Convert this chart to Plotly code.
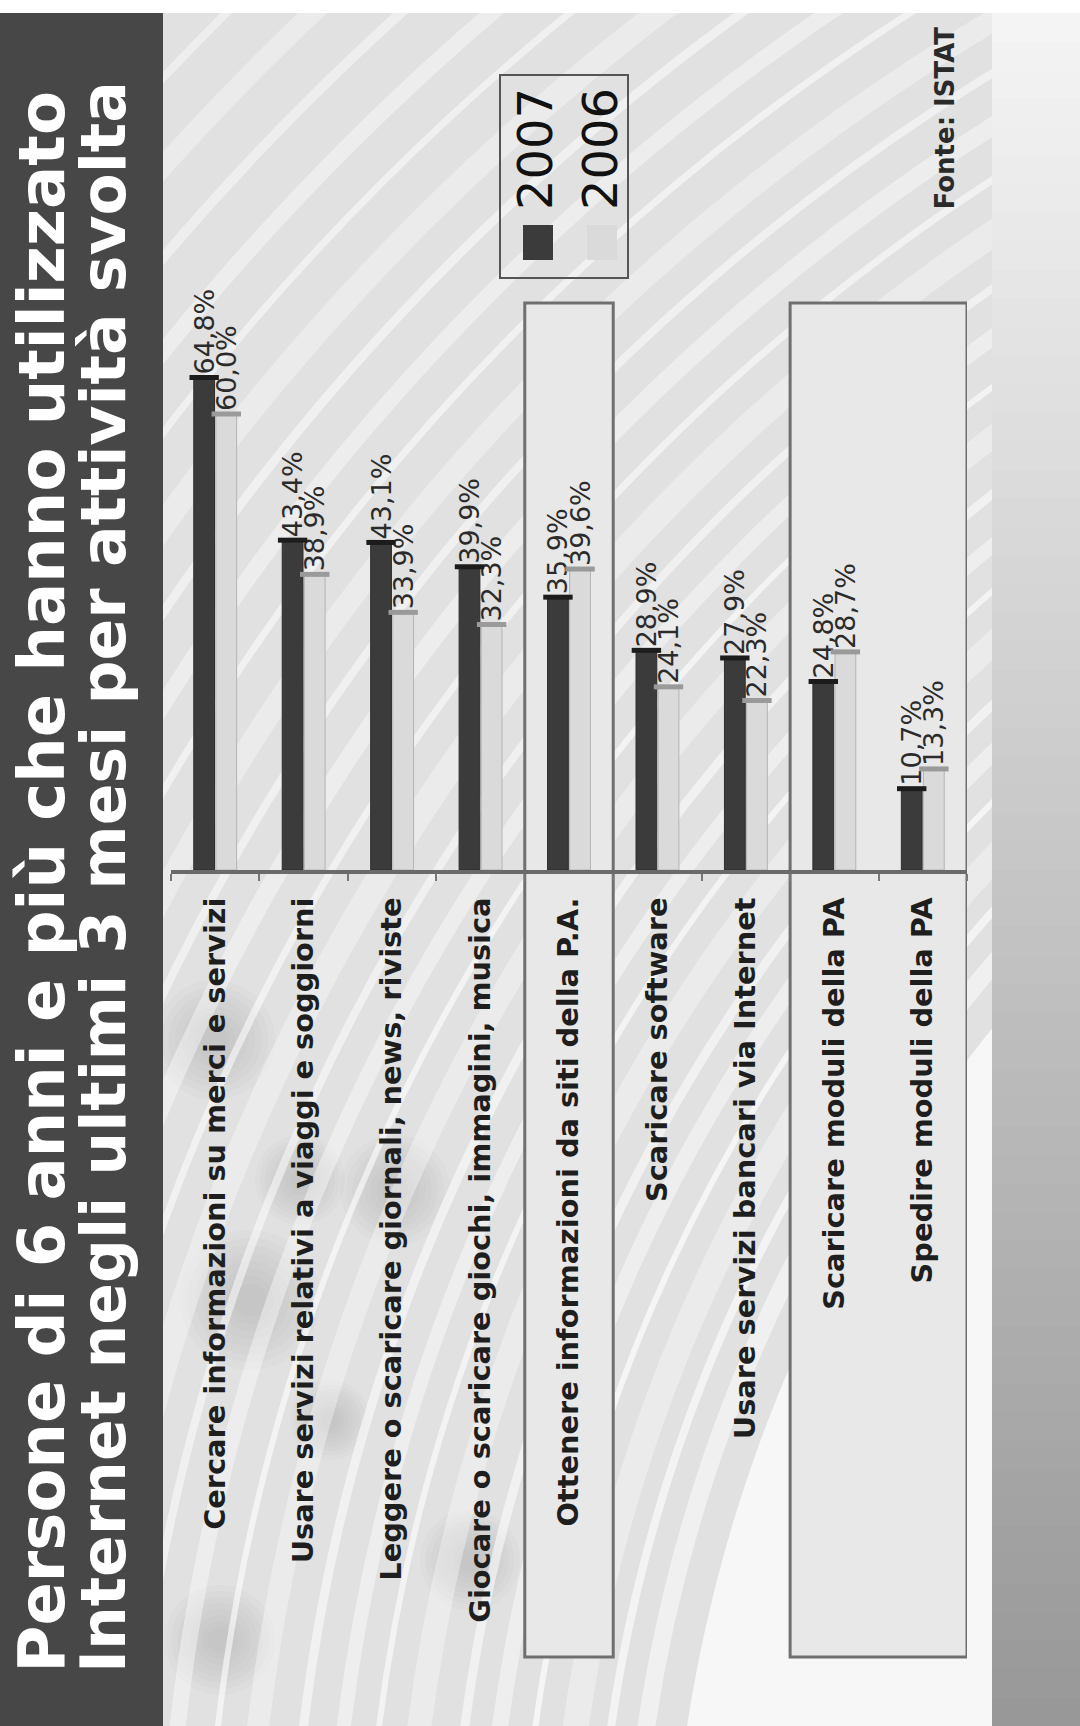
import plotly.graph_objects as go

# ---------------- data ----------------
categorie = [
    "Cercare informazioni su merci e servizi",
    "Usare servizi relativi a viaggi e soggiorni",
    "Leggere o scaricare giornali, news, riviste",
    "Giocare o scaricare giochi, immagini, musica",
    "Ottenere informazioni da siti della P.A.",
    "Scaricare software",
    "Usare servizi bancari via Internet",
    "Scaricare moduli della PA",
    "Spedire moduli della PA",
]
valori_2007 = [64.8, 43.4, 43.1, 39.9, 35.9, 28.9, 27.9, 24.8, 10.7]
valori_2006 = [60.0, 38.9, 33.9, 32.3, 39.6, 24.1, 22.3, 28.7, 13.3]
anni = ["2007", "2006"]
# groups of categories framed by a highlight box (first, last index)
riquadri = [(4, 4), (7, 8)]

titolo_1 = "Persone di 6 anni e più che hanno utilizzato"
titolo_2 = "Internet negli ultimi 3 mesi per attività svolta"
fonte = "Fonte: ISTAT"

# ---------------- style ----------------
FONT = "DejaVu Sans"
colori = ["#3b3b3b", "#dadada"]
bordi = ["#2e2e2e", "#b4b4b4"]
colori_cap = ["#1c1c1c", "#9a9a9a"]

W, H = 1080, 1726
ML, MR, MT, MB = 171, 113, 303, 856
PW = W - ML - MR
PH = H - MT - MB
PX_PER_UNIT = 7.6          # vertical pixels per percentage point


def fx(px):
    return (px - ML) / PW


def fy(py):
    return (H - MB - py) / PH


def fmt(v):
    return f"{v:.1f}".replace(".", ",") + "%"


fig = go.Figure()

serie = [valori_2007, valori_2006]
for nome, vals, col, bor in zip(anni, serie, colori, bordi):
    fig.add_bar(
        x=categorie, y=vals, name=nome, offsetgroup=nome,
        marker=dict(color=col, line=dict(width=1, color=bor)),
        text=[fmt(v) for v in vals], textposition="outside", textangle=-90,
        textfont=dict(family=FONT, size=27, color="#2b2b2b"),
        constraintext="none", cliponaxis=False, showlegend=False,
    )

# elliptic-looking caps on top of the cylinders
for nome, vals, capcol in zip(anni, serie, colori_cap):
    fig.add_scatter(
        x=categorie, y=vals, mode="markers", offsetgroup=nome,
        marker=dict(symbol="line-ew", size=21, line=dict(width=5, color=capcol)),
        showlegend=False, hoverinfo="skip", cliponaxis=False,
    )

shapes = []

# main background
shapes.append(dict(type="rect", xref="paper", yref="paper", layer="below",
                   x0=fx(160), x1=fx(992), y0=fy(H), y1=fy(13),
                   fillcolor="#e1e1e1", line=dict(width=0)))


def cerchio(cx, cy, r, fill="rgba(0,0,0,0)", w=0, lc="rgba(0,0,0,0)"):
    return dict(type="circle", xref="paper", yref="paper", layer="below",
                x0=fx(cx - r), x1=fx(cx + r), y0=fy(cy + r), y1=fy(cy - r),
                fillcolor=fill, line=dict(width=w, color=lc))


# soft grey smudges in the lower left
for cx, cy, r in [(215, 1040, 60), (250, 1300, 70), (395, 1190, 55),
                  (300, 1180, 45), (220, 1640, 55), (470, 1560, 50), (330, 1420, 40)]:
    for k in range(8):
        shapes.append(cerchio(cx, cy, r * (1 - 0.11 * k), fill="rgba(80,80,80,0.022)"))

# light sweep and streaks, concentric around a far point at the lower right
CX, CY = 2150, 1950
shapes.append(cerchio(CX, CY, 1480, fill="rgba(255,255,255,0.72)"))
for r, w, a in [(1520, 18, 0.5), (1555, 8, 0.6), (1590, 26, 0.35), (1630, 6, 0.65),
                (1665, 16, 0.45), (1700, 9, 0.55), (1745, 24, 0.35), (1785, 6, 0.6),
                (1820, 14, 0.45), (1860, 9, 0.55), (1905, 22, 0.35), (1945, 6, 0.6),
                (1985, 16, 0.4), (2025, 8, 0.5), (2070, 26, 0.35), (2115, 7, 0.55),
                (2160, 18, 0.4), (2205, 8, 0.5), (2250, 22, 0.35), (2300, 7, 0.55),
                (2345, 16, 0.4), (2395, 9, 0.5), (2445, 24, 0.35), (2500, 7, 0.5),
                (2550, 16, 0.4), (2610, 10, 0.45), (2670, 20, 0.35), (2730, 8, 0.45)]:
    shapes.append(cerchio(CX, CY, r, w=w, lc=f"rgba(255,255,255,{a})"))

# right-hand strip with a vertical grey gradient
N = 60
y_top, y_bot = 13, H
for i in range(N):
    t = i / (N - 1)
    g = int(round(0xf4 + (0x98 - 0xf4) * t))
    ya = y_top + (y_bot - y_top) * i / N
    yb = y_top + (y_bot - y_top) * (i + 1) / N + 1
    shapes.append(dict(type="rect", xref="paper", yref="paper", layer="below",
                       x0=fx(992), x1=fx(W + 2), y0=fy(yb), y1=fy(ya),
                       fillcolor=f"rgb({g},{g},{g})", line=dict(width=0)))

# dark title band
shapes.append(dict(type="rect", xref="paper", yref="paper", layer="below",
                   x0=fx(0), x1=fx(163), y0=fy(H + 2), y1=fy(13),
                   fillcolor="#474747", line=dict(width=0)))

# highlight boxes around selected categories
for a, b in riquadri:
    shapes.append(dict(type="rect", xref="x", yref="paper", layer="below",
                       x0=a - 0.5, x1=b + 0.5, y0=fy(1657), y1=fy(303),
                       fillcolor="#e8e8e8", line=dict(width=3, color="#6f6f6f")))

# legend frame and swatches
shapes.append(dict(type="rect", xref="paper", yref="paper",
                   x0=fx(500), x1=fx(628), y0=fy(278), y1=fy(75),
                   line=dict(width=2, color="#555555"), fillcolor="rgba(0,0,0,0)"))
for col, xa in zip(colori, [523, 587]):
    shapes.append(dict(type="rect", xref="paper", yref="paper",
                       x0=fx(xa), x1=fx(xa + 30), y0=fy(260), y1=fy(225),
                       fillcolor=col, line=dict(width=0)))

annotations = []
for testo, xc, fs in [(titolo_1, 41, 64), (titolo_2, 104, 61.5)]:
    annotations.append(dict(text=testo, xref="paper", yref="paper",
                            x=fx(xc), y=fy(1675), xanchor="center", yanchor="bottom",
                            textangle=-90, showarrow=False,
                            font=dict(family=FONT, size=fs, color="white", weight="bold")))
for nome, xc in zip(anni, [535, 600]):
    annotations.append(dict(text=nome, xref="paper", yref="paper",
                            x=fx(xc), y=fy(212), xanchor="center", yanchor="bottom",
                            textangle=-90, showarrow=False,
                            font=dict(family=FONT, size=48, color="#111111")))
annotations.append(dict(text=fonte, xref="paper", yref="paper",
                        x=fx(945), y=fy(212), xanchor="center", yanchor="bottom",
                        textangle=-90, showarrow=False,
                        font=dict(family=FONT, size=26, color="#2a2a2a", weight="bold")))

fig.update_layout(
    width=W, height=H,
    margin=dict(l=ML, r=MR, t=MT, b=MB, pad=0),
    paper_bgcolor="white", plot_bgcolor="rgba(0,0,0,0)",
    barmode="group", bargap=0.5, bargroupgap=0.06,
    scattermode="group", scattergap=0.5,
    shapes=shapes, annotations=annotations,
    showlegend=False,
    xaxis=dict(
        type="category", tickangle=-90, tickson="boundaries",
        ticks="outside", ticklen=7, tickwidth=2, tickcolor="#777777",
        showline=True, linecolor="#6a6a6a", linewidth=4,
        showgrid=False, zeroline=False, ticklabelstandoff=12,
        tickfont=dict(family=FONT, size=28.8, color="#1e1e1e", weight="bold"),
        range=[-0.5, len(categorie) - 0.5], fixedrange=True,
    ),
    yaxis=dict(visible=False, range=[0, PH / PX_PER_UNIT], fixedrange=True),
)

fig.write_html("out.html")
